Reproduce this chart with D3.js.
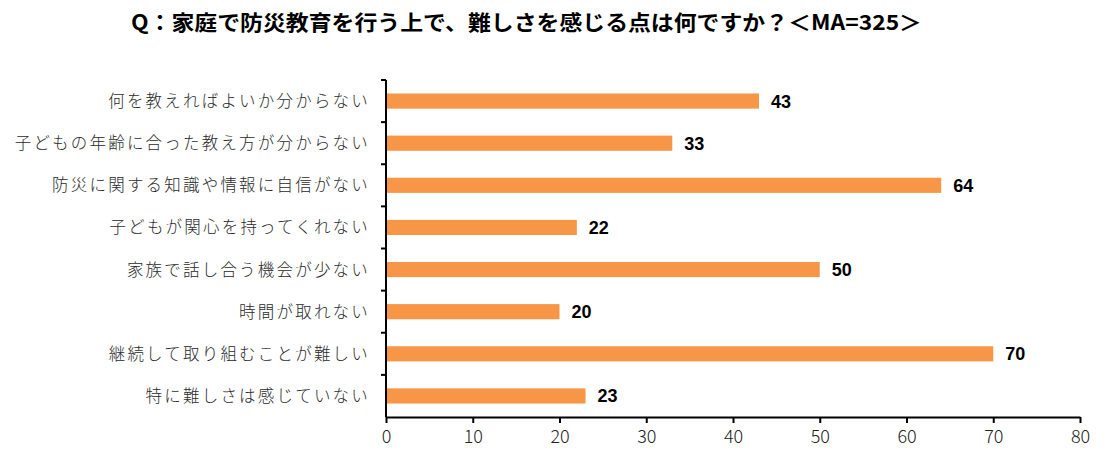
<!DOCTYPE html>
<html>
<head>
<meta charset="utf-8">
<script src="https://cdn.jsdelivr.net/npm/d3@7"></script>
<style>
  body { margin: 0; background: #fff; }
  svg { display: block; }
</style>
</head>
<body>
<div id="chart"></div>
<script>
// data
const titleText = 'Q：家庭で防災教育を行う上で、難しさを感じる点は何ですか？＜MA=325＞'
const categories = [
  '何を教えればよいか分からない',
  '子どもの年齢に合った教え方が分からない',
  '防災に関する知識や情報に自信がない',
  '子どもが関心を持ってくれない',
  '家族で話し合う機会が少ない',
  '時間が取れない',
  '継続して取り組むことが難しい',
  '特に難しさは感じていない'
]
const values = [43, 33, 64, 22, 50, 20, 70, 23]
const xTicks = [0, 10, 20, 30, 40, 50, 60, 70, 80]

const width = 1114
const height = 466
const margin = { top: 80, right: 34, bottom: 49, left: 386 }
const innerWidth = width - margin.left - margin.right
const innerHeight = height - margin.top - margin.bottom
const jp = '"Noto Sans CJK JP", "Noto Sans", sans-serif'

const svg = d3.select('#chart')
  .append('svg')
  .attr('width', width)
  .attr('height', height)

// title
svg.append('text')
  .attr('x', 131)
  .attr('y', 30)
  .attr('textLength', 791)
  .attr('lengthAdjust', 'spacingAndGlyphs')
  .style('font-family', jp)
  .style('font-weight', 'bold')
  .style('font-size', '21px')
  .attr('fill', '#000')
  .text(titleText)

const g = svg.append('g')
  .attr('transform', `translate(${margin.left}, ${margin.top})`)

const xScale = d3.scaleLinear().domain([0, 80]).range([0, innerWidth])
const yScale = d3.scaleBand().domain(categories).range([0, innerHeight]).paddingInner(0.64).paddingOuter(0.32)
const band = d3.scaleBand().domain(categories).range([0, innerHeight])

// bars
g.selectAll('rect.bar')
  .data(values)
  .enter()
  .append('rect')
  .attr('class', 'bar')
  .attr('x', 0)
  .attr('y', (d, i) => yScale(categories[i]))
  .attr('width', d => xScale(d))
  .attr('height', yScale.bandwidth())
  .attr('fill', '#F79646')

// value labels
g.selectAll('text.val')
  .data(values)
  .enter()
  .append('text')
  .attr('class', 'val')
  .attr('x', d => xScale(d) + 12)
  .attr('y', (d, i) => yScale(categories[i]) + yScale.bandwidth() / 2)
  .attr('dy', '0.36em')
  .style('font-family', '"Liberation Sans", Arial, sans-serif')
  .style('font-weight', 'bold')
  .style('font-size', '18px')
  .text(d => d)

// x axis
const xAxis = g.append('g')
  .attr('transform', `translate(0, ${innerHeight})`)
  .call(d3.axisBottom(xScale).tickValues(xTicks).tickSize(6).tickSizeOuter(0))
xAxis.select('.domain').attr('stroke', '#000').attr('stroke-width', 2)
xAxis.selectAll('.tick line').attr('stroke', '#000').attr('stroke-width', 2)
xAxis.selectAll('.tick text')
  .attr('y', 13)
  .style('font-family', jp)
  .style('font-weight', 300)
  .style('font-size', '18px')
  .attr('fill', '#222')

// y axis: ticks at band boundaries
const yAxis = g.append('g')
yAxis.append('line')
  .attr('x1', 0).attr('x2', 0)
  .attr('y1', 0).attr('y2', innerHeight)
  .attr('stroke', '#000').attr('stroke-width', 2)
yAxis.selectAll('line.tk')
  .data(categories)
  .enter()
  .append('line')
  .attr('class', 'tk')
  .attr('x1', -5).attr('x2', 0)
  .attr('y1', d => band(d)).attr('y2', d => band(d))
  .attr('stroke', '#000').attr('stroke-width', 2)

yAxis.selectAll('text.cat')
  .data(categories)
  .enter()
  .append('text')
  .attr('class', 'cat')
  .attr('x', -16)
  .attr('y', d => band(d) + band.bandwidth() / 2)
  .attr('dy', '0.36em')
  .attr('text-anchor', 'end')
  .style('font-family', jp)
  .style('font-weight', 300)
  .style('font-size', '16.5px')
  .style('letter-spacing', '2.2px')
  .attr('fill', '#2a2a2a')
  .text(d => d)
</script>
</body>
</html>
